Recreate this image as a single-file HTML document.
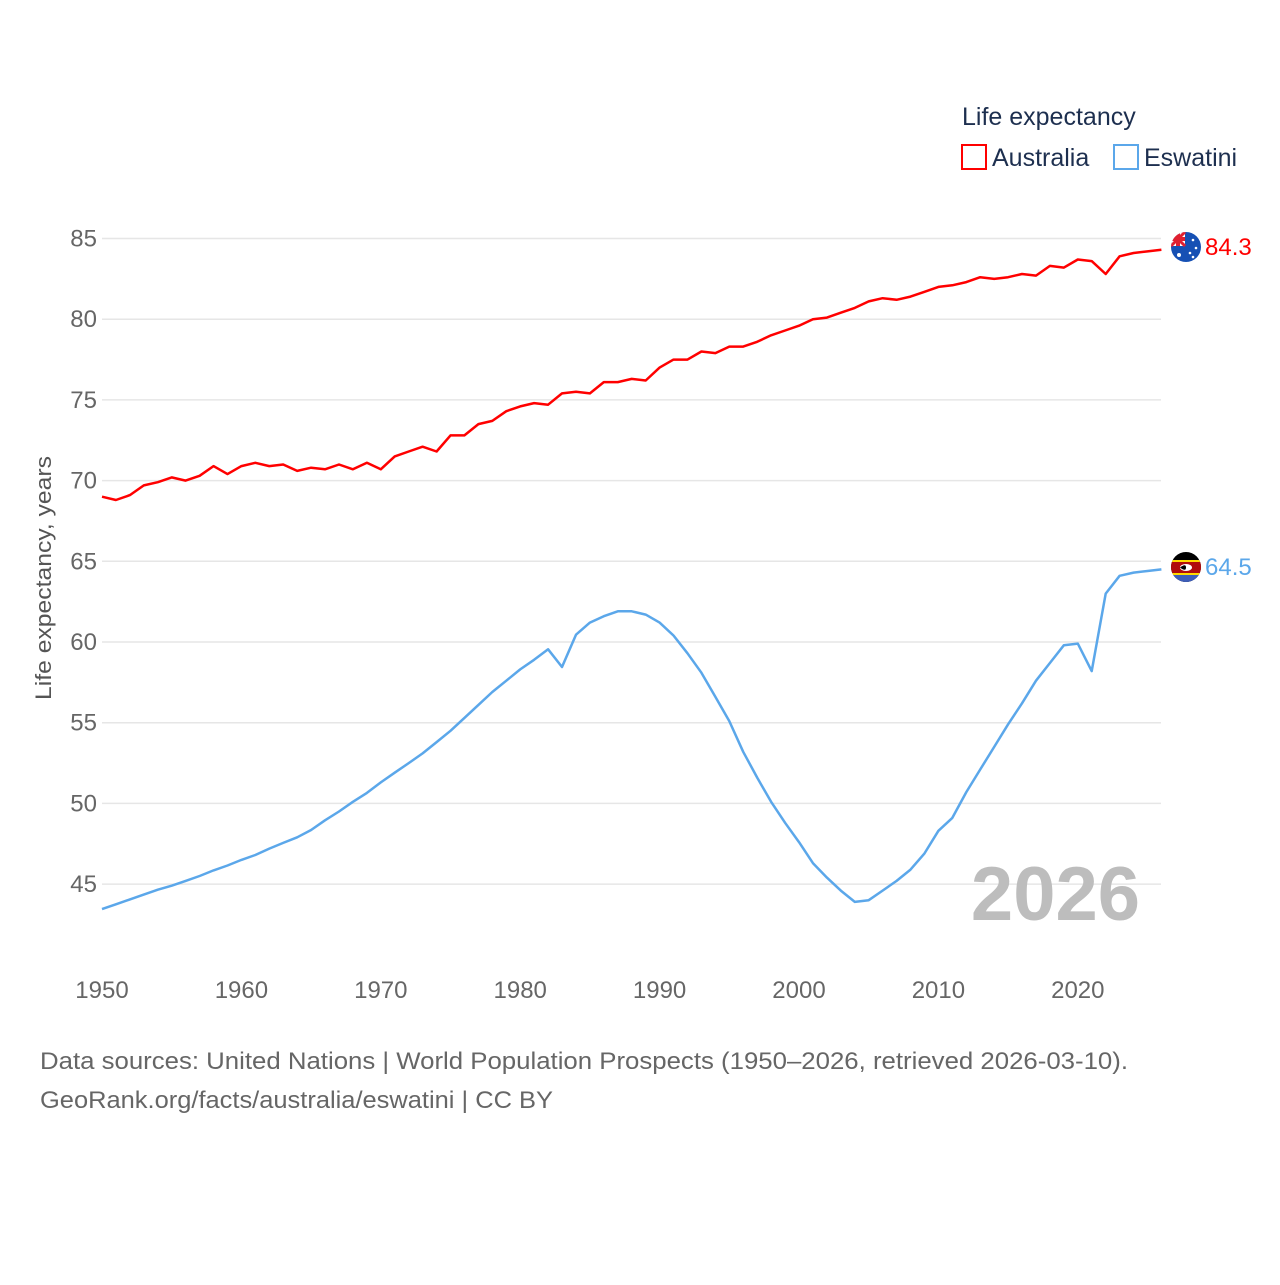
<!DOCTYPE html>
<html><head><meta charset="utf-8"><style>
body{margin:0;background:#fff;width:1280px;height:1280px;overflow:hidden;font-family:"Liberation Sans",sans-serif}
svg text{font-family:"Liberation Sans",sans-serif}
</style></head><body>
<svg id="chart" width="1280" height="1280" xmlns="http://www.w3.org/2000/svg">
<g id="grid"></g>
<g id="yticks"></g>
<g id="xticks"></g>
<text transform="translate(51,578) rotate(-90)" text-anchor="middle" font-size="22" fill="#555" textLength="244" lengthAdjust="spacingAndGlyphs">Life expectancy, years</text>
<text x="1140" y="920" text-anchor="end" font-size="76" font-weight="bold" fill="#bdbdbd">2026</text>
<g id="series"></g>
<g>
<text x="962" y="125" font-size="25" fill="#1d2f4f">Life expectancy</text>
<rect x="962" y="145" width="24" height="24" fill="none" stroke="#ff0000" stroke-width="2"/>
<text x="992" y="166" font-size="25" fill="#1d2f4f">Australia</text>
<rect x="1114" y="145" width="24" height="24" fill="none" stroke="#5ba7ea" stroke-width="2"/>
<text x="1144" y="166" font-size="25" fill="#1d2f4f">Eswatini</text>
</g>
<g>
<clipPath id="c1"><circle cx="1186" cy="247" r="15"/></clipPath>
<g clip-path="url(#c1)"><rect x="1170" y="231" width="32" height="32" fill="#1650b4"/><rect x="1171" y="232" width="14" height="14" fill="#fff"/><path d="M1171 232 L1185 246 M1185 232 L1171 246" stroke="#e02030" stroke-width="3"/><rect x="1176" y="232" width="4" height="14" fill="#e02030"/><rect x="1171" y="237" width="14" height="4" fill="#e02030"/>
<circle cx="1179" cy="255" r="2" fill="#fff"/><circle cx="1193" cy="240" r="1.3" fill="#fff"/><circle cx="1196" cy="248" r="1.3" fill="#fff"/><circle cx="1190" cy="253" r="1.3" fill="#fff"/><circle cx="1193" cy="257" r="1.3" fill="#fff"/></g>
</g>
<text x="1205" y="255" font-size="24" fill="#ff0000">84.3</text>
<g>
<clipPath id="c2"><circle cx="1186" cy="567" r="15"/></clipPath>
<g clip-path="url(#c2)"><rect x="1170" y="551" width="32" height="32" fill="#000"/><rect x="1170" y="562" width="32" height="11" fill="#b10c0c"/><rect x="1170" y="560" width="32" height="2" fill="#ffd900"/><rect x="1170" y="573" width="32" height="2" fill="#ffd900"/><rect x="1170" y="575" width="32" height="10" fill="#3e5eb9"/><ellipse cx="1186" cy="567.5" rx="6" ry="3.5" fill="#fff"/><path d="M1180 567.5 Q1186 563 1186 567.5 Q1186 572 1180 567.5Z" fill="#000"/></g>
</g>
<text x="1205" y="575" font-size="24" fill="#5ba7ea">64.5</text>
<text x="40" y="1069" font-size="24" fill="#666" textLength="1088" lengthAdjust="spacingAndGlyphs">Data sources: United Nations | World Population Prospects (1950–2026, retrieved 2026-03-10).</text>
<text x="40" y="1108" font-size="24" fill="#666" textLength="513" lengthAdjust="spacingAndGlyphs">GeoRank.org/facts/australia/eswatini | CC BY</text>
</svg>
<script>
const years = Array.from({length:77},(_,i)=>1950+i);
const australia = [69.0,68.8,69.1,69.7,69.9,70.2,70.0,70.3,70.9,70.4,70.9,71.1,70.9,71.0,70.6,70.8,70.7,71.0,70.7,71.1,70.7,71.5,71.8,72.1,71.8,72.8,72.8,73.5,73.7,74.3,74.6,74.8,74.7,75.4,75.5,75.4,76.1,76.1,76.3,76.2,77.0,77.5,77.5,78.0,77.9,78.3,78.3,78.6,79.0,79.3,79.6,80.0,80.1,80.4,80.7,81.1,81.3,81.2,81.4,81.7,82.0,82.1,82.3,82.6,82.5,82.6,82.8,82.7,83.3,83.2,83.7,83.6,82.8,83.9,84.1,84.2,84.3];
const eswatini = [43.45,43.75,44.05,44.35,44.65,44.9,45.2,45.5,45.85,46.15,46.5,46.8,47.2,47.55,47.9,48.35,48.95,49.5,50.1,50.65,51.3,51.9,52.5,53.1,53.8,54.5,55.3,56.1,56.9,57.6,58.3,58.9,59.55,58.45,60.45,61.2,61.6,61.9,61.9,61.7,61.2,60.4,59.3,58.1,56.6,55.1,53.2,51.6,50.1,48.8,47.6,46.3,45.4,44.6,43.9,44.0,44.6,45.2,45.9,46.9,48.3,49.1,50.7,52.1,53.5,54.9,56.2,57.6,58.7,59.8,59.9,58.2,63.0,64.1,64.3,64.4,64.5];
const yTicks = [45,50,55,60,65,70,75,80,85];
const xTicks = [1950,1960,1970,1980,1990,2000,2010,2020];
const NS='http://www.w3.org/2000/svg';
const xS = y => 102 + (y-1950)*13.94;
const yS = v => 238.5 + (85-v)*16.14;
const grid=document.getElementById('grid'), yt=document.getElementById('yticks'), xt=document.getElementById('xticks'), ser=document.getElementById('series');
yTicks.forEach(v=>{
  const l=document.createElementNS(NS,'line');
  
  
  l.setAttribute('x1',102);l.setAttribute('x2',1161);l.setAttribute('y1',yS(v));l.setAttribute('y2',yS(v));
  l.setAttribute('stroke','#e6e6e6');l.setAttribute('stroke-width','1.5');grid.appendChild(l);
  const t=document.createElementNS(NS,'text');
  
  
  t.setAttribute('x',97);t.setAttribute('y',yS(v)+8);t.setAttribute('text-anchor','end');
  t.setAttribute('font-size','24');t.setAttribute('fill','#666');t.textContent=v;yt.appendChild(t);
});
xTicks.forEach(v=>{
  const t=document.createElementNS(NS,'text');
  
  
  t.setAttribute('x',xS(v));t.setAttribute('y',998);t.setAttribute('text-anchor','middle');
  t.setAttribute('font-size','24');t.setAttribute('fill','#666');t.textContent=v;xt.appendChild(t);
});
function line(vals,color,name){
  const p=document.createElementNS(NS,'polyline');
  
  
  p.setAttribute('points',vals.map((v,i)=>xS(years[i]).toFixed(1)+','+yS(v).toFixed(1)).join(' '));
  p.setAttribute('fill','none');p.setAttribute('stroke',color);p.setAttribute('stroke-width','2.5');p.setAttribute('stroke-linejoin','round');
  ser.appendChild(p);
}
line(australia,'#ff0000','australia-line');
line(eswatini,'#5ba7ea','eswatini-line');
</script>
</body></html>
